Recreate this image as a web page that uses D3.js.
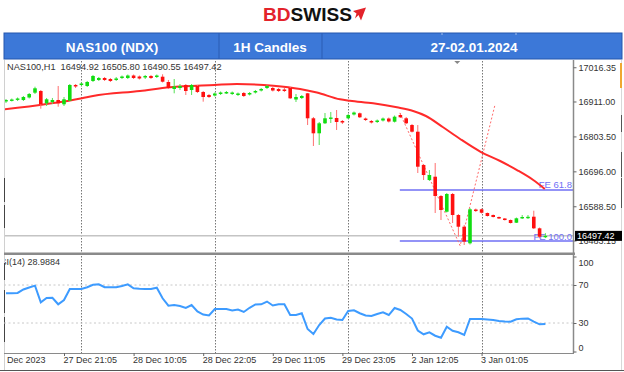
<!DOCTYPE html>
<html><head><meta charset="utf-8">
<script src="https://cdn.jsdelivr.net/npm/d3@7"></script>
<style>body{margin:0;background:#fff}svg{display:block}text{font-family:"Liberation Sans",Arial,sans-serif}</style>
</head><body><svg id="c" width="624" height="372"></svg>
<script>
// ---------- DATA ----------
const symbolTitle = "NAS100 (NDX)";
const tfTitle = "1H Candles";
const dateTitle = "27-02.01.2024";
const infoText = "NAS100,H1  16494.92 16505.80 16490.55 16497.42";
const rsiText = "RSI(14) 28.9884";

const opens = [16911.0,16914.1,16916.2,16915.6,16923.3,16938.1,16943.3,16905.4,16909.4,16915.6,16902.4,16913.5,16961.8,16961.8,16958.7,16974.1,16977.2,16983.3,16980.2,16977.2,16983.3,16983.3,16991.0,16987.9,16984.9,16989.5,16986.4,16987.3,16971.0,16949.5,16952.5,16961.8,16946.4,16958.7,16940.2,16931.0,16929.5,16934.1,16935.6,16934.1,16931.0,16937.1,16932.5,16938.7,16944.8,16952.5,16952.5,16949.5,16947.9,16952.5,16917.1,16921.8,16936.2,16859.3,16813.1,16843.9,16858.6,16860.2,16851.0,16859.3,16871.0,16874.7,16858.6,16851.0,16847.9,16852.5,16858.6,16848.8,16869.4,16859.3,16838.6,16818.0,16715.5,16669.4,16679.5,16620.1,16571.8,16626.3,16561.6,16525.6,16474.5,16578.6,16579.2,16567.8,16561.6,16555.5,16550.9,16546.2,16537.9,16552.4,16553.0,16556.4,16520.7,16494.92];
const highs = [16918.7,16920.2,16923.3,16927.9,16937.1,16956.5,16946.4,16921.8,16921.8,16958.7,16924.8,16964.8,16964.8,16969.5,16974.1,16992.6,16986.4,16986.4,16983.3,16986.4,16991.0,16994.1,16994.1,16991.0,16992.6,16992.6,16994.1,16994.7,16977.2,16980.2,16964.8,16964.8,16964.8,16961.8,16943.3,16934.1,16938.7,16941.8,16943.3,16941.8,16938.7,16940.2,16940.2,16946.4,16952.5,16961.8,16955.6,16952.5,16952.5,16955.6,16934.1,16931.0,16937.1,16863.3,16847.9,16875.6,16878.7,16884.8,16854.0,16872.5,16880.2,16877.1,16861.7,16854.0,16855.6,16861.7,16861.7,16867.9,16875.6,16863.3,16841.7,16838.6,16718.6,16700.1,16721.7,16623.2,16629.3,16629.3,16564.7,16530.9,16583.2,16581.6,16581.6,16569.3,16563.2,16557.0,16552.4,16547.8,16553.9,16561.6,16561.6,16574.9,16523.1,16505.80];
const lows = [16906.4,16911.0,16912.5,16912.5,16920.2,16934.1,16888.8,16897.1,16903.3,16895.0,16897.1,16912.5,16952.5,16958.7,16955.6,16971.0,16974.1,16974.1,16971.0,16974.1,16980.2,16980.2,16980.2,16978.7,16980.2,16980.2,16983.3,16969.5,16949.5,16936.2,16946.4,16931.0,16931.0,16937.1,16910.4,16921.8,16926.4,16931.0,16934.1,16931.0,16927.9,16924.8,16929.5,16935.6,16941.8,16949.5,16941.8,16940.2,16940.2,16918.7,16909.4,16918.7,16838.6,16774.0,16777.1,16841.7,16844.8,16823.3,16841.7,16857.1,16867.9,16860.2,16851.0,16843.3,16844.8,16849.4,16846.3,16846.3,16860.2,16841.7,16815.6,16690.9,16669.4,16666.3,16567.8,16546.2,16569.3,16537.0,16494.8,16469.3,16470.8,16570.9,16566.2,16557.0,16554.0,16549.3,16544.7,16535.5,16537.0,16549.3,16549.3,16518.5,16489.9,16490.55];
const closes = [16915.6,16917.1,16920.2,16924.8,16934.1,16951.6,16902.4,16917.8,16915.6,16905.4,16917.8,16961.8,16957.2,16966.4,16971.0,16989.5,16983.3,16977.2,16974.1,16981.8,16987.9,16991.0,16983.3,16981.8,16989.5,16983.3,16991.0,16971.9,16952.5,16957.2,16958.7,16943.3,16961.8,16940.2,16924.8,16924.8,16935.6,16938.7,16940.2,16938.7,16935.6,16927.9,16937.1,16943.3,16949.5,16958.7,16944.8,16943.3,16943.3,16920.8,16924.8,16927.9,16859.3,16813.1,16843.9,16859.3,16861.7,16847.9,16846.3,16869.4,16877.1,16862.4,16854.0,16846.3,16852.5,16858.6,16849.4,16864.2,16862.4,16843.9,16818.0,16710.3,16684.7,16684.7,16620.1,16577.0,16626.3,16561.6,16525.6,16479.7,16579.2,16573.9,16568.7,16558.6,16555.5,16550.9,16546.2,16537.0,16551.5,16555.5,16556.1,16520.7,16494.8,16497.42];

// moving average, read at bar positions
const maIdx = [-0.4,13.1,15,23.1,28.3,36,39.8,46.1,50.7,53.6,57.6,59.3,63.3,67.4,70.2,72.4,75.3,78.3,81.9,85.2,88.1,90.9,92.9];
const maVal = [16886.4,16920.8,16927.9,16943.3,16954.7,16961.8,16964.8,16959.6,16949.5,16938.7,16917.8,16913.4,16905.4,16893.1,16881.7,16866.4,16832.5,16795.6,16755.5,16727.8,16700.1,16669.4,16641.7];

// RSI(14) per bar
const rsi = [61.3,61.3,61.6,65.3,67.4,69.3,51.8,56.3,56.6,49.7,54.2,65.8,65.8,65.8,67.7,70.2,70.7,67.7,67.6,67.7,68.9,70.7,66.5,66.0,65.8,65.8,67.2,56.0,48.2,48.9,47.9,45.8,48.9,42.1,38.9,37.9,44.7,44.7,44.7,43.2,44.2,41.6,46.0,49.5,49.7,52.6,48.4,49.7,49.7,38.4,38.4,40.2,23.7,18.4,27.9,34.7,35.6,33.7,33.2,42.6,43.4,40.3,37.9,37.4,39.5,41.3,38.4,45.8,43.7,39.5,34.7,22.1,18.1,20.2,16.6,14.5,26.1,21.8,20.2,17.4,34.2,34.2,34.2,33.7,33.2,32.1,31.6,31.4,33.9,34.6,34.8,31.4,28.6,28.9884];

// Fibonacci expansion
const fibIdx = [67.9, 78.3, 84.3];
const fibPrice = [16876, 16467, 16900];
const feLabels = ["FE 61.8", "FE 100.0"];
const fePrices = [16638.6, 16481.6];
const feStartIdx = 67.9;
const bidPrice = 16497.42;

// axes
const priceTicks = [17016.35, 16911.00, 16803.50, 16696.00, 16588.50, 16483.15];
const rsiTicks = [100, 70, 30, 0];
const rsiLevels = [70, 30];
const timeIdx = [10, 22, 34, 46, 58, 70, 82];
const timeLabels = ["27 Dec 21:05","28 Dec 10:05","28 Dec 22:05","29 Dec 11:05","29 Dec 23:05","2 Jan 12:05","3 Jan 01:05"];
const firstLabel = "Dec 2023";
const daySepIdx = [13, 36, 59, 82];
const shiftMarkerIdx = 77.8;

// ---------- LAYOUT ----------
const X0 = 4, X1 = 573, PT = 60, PB = 253, RT = 256.5, RB = 351.5, AXY = 353;
const svg = d3.select("#c");
const x = d3.scaleLinear().domain([-0.345, 97.76]).range([X0, X1]);
const yP = d3.scaleLinear().domain([16444.7, 17038.7]).range([PB, PT]);
const yR = d3.scaleLinear().domain([0, 100]).range([RB, RT]);

svg.append("rect").attr("width",624).attr("height",372).attr("fill","#fff");

// ---------- HEADER ----------
const logo = svg.append("text").attr("x",263).attr("y",21)
  .attr("font-size",17.5).attr("font-weight","bold")
  .attr("textLength",89).attr("lengthAdjust","spacingAndGlyphs");
logo.append("tspan").attr("fill","#e3232b").text("BD");
logo.append("tspan").attr("fill","#111").text("SWISS");
svg.append("polygon").attr("points","353,11 366,7.5 361,20.5 358.5,15 355,18.5 356.5,13.5").attr("fill","#e3232b");

svg.append("rect").attr("x",4).attr("y",33).attr("width",618).attr("height",26)
  .attr("fill","#3c78d8").attr("stroke","#2456ad").attr("stroke-width",1);
[219, 322].forEach(d => svg.append("line").attr("x1",d).attr("x2",d).attr("y1",33).attr("y2",59).attr("stroke","#2a5cb3"));
[442, 516].forEach(d => svg.append("line").attr("x1",d).attr("x2",d).attr("y1",33).attr("y2",35).attr("stroke","#9fbbe8"));
const hdr = [[symbolTitle,112],[tfTitle,270],[dateTitle,474]];
hdr.forEach(([t,cx]) => svg.append("text").attr("x",cx).attr("y",51.5).attr("text-anchor","middle")
  .attr("font-size",13.5).attr("font-weight","bold").attr("fill","#fff").text(t));

// ---------- FRAME ----------
svg.append("line").attr("x1",4.5).attr("x2",4.5).attr("y1",60).attr("y2",370).attr("stroke","#d0d0d0");
[[178,202],[205,228],[263,280],[290,313],[317,342]].forEach(([a,b]) =>
  svg.append("line").attr("x1",4.5).attr("x2",4.5).attr("y1",a).attr("y2",b).attr("stroke","#444"));
svg.append("line").attr("x1",621.5).attr("x2",621.5).attr("y1",60).attr("y2",370).attr("stroke","#d8d8d8");
svg.append("rect").attr("x",620).attr("y",63).attr("width",2).attr("height",25).attr("fill","#f0a830");
[[115,132],[152,177],[178,208]].forEach(([a,b]) =>
  svg.append("line").attr("x1",621.5).attr("x2",621.5).attr("y1",a).attr("y2",b).attr("stroke","#555"));
svg.append("line").attr("x1",0).attr("x2",624).attr("y1",370.5).attr("y2",370.5).attr("stroke","#555");

svg.append("clipPath").attr("id","cp").append("rect").attr("x",X0+1).attr("y",PT).attr("width",X1-X0-1).attr("height",PB-PT);
svg.append("clipPath").attr("id","cr").append("rect").attr("x",X0+1).attr("y",255).attr("width",X1-X0-1).attr("height",AXY-255);

// ---------- GRID ----------
const gGrid = svg.append("g");
daySepIdx.forEach(i => gGrid.append("line").attr("x1",Math.round(x(i))+0.5).attr("x2",Math.round(x(i))+0.5)
  .attr("y1",61).attr("y2",AXY).attr("stroke","#777").attr("stroke-dasharray","1.5,1.5"));
rsiLevels.forEach(v => gGrid.append("line").attr("x1",X0).attr("x2",X1).attr("y1",yR(v)).attr("y2",yR(v))
  .attr("stroke","#c8c8c8").attr("stroke-dasharray","2,2.5"));

// ---------- PRICE PANE ----------
const gP = svg.append("g").attr("clip-path","url(#cp)");
gP.append("line").attr("x1",X0).attr("x2",X1).attr("y1",yP(bidPrice)).attr("y2",yP(bidPrice))
  .attr("stroke","#c4c4c4").attr("stroke-width",1.5);
fePrices.forEach(p => gP.append("line").attr("x1",x(feStartIdx)).attr("x2",X1).attr("y1",yP(p)).attr("y2",yP(p))
  .attr("stroke","#6f6ff5").attr("stroke-width",1.3));
feLabels.forEach((t,k) => gP.append("text").attr("x",X1-1).attr("y",yP(fePrices[k])-1.5).attr("text-anchor","end")
  .attr("font-size",9.5).attr("fill","#6f6ff5").text(t));

gP.append("path").datum(fibIdx.map((d,k)=>[d,fibPrice[k]]))
  .attr("d", d3.line().x(d=>x(d[0])).y(d=>yP(d[1])))
  .attr("fill","none").attr("stroke","#ff6a6a").attr("stroke-width",1).attr("stroke-dasharray","2,2");

gP.append("path").datum(maIdx.map((d,k)=>[d,maVal[k]]))
  .attr("d", d3.line().curve(d3.curveMonotoneX).x(d=>x(d[0])).y(d=>yP(d[1])))
  .attr("fill","none").attr("stroke","#ff2a2a").attr("stroke-width",2);

const bars = opens.map((o,i)=>({i, o, h:highs[i], l:lows[i], c:closes[i], up: closes[i] >= o}));
const gC = gP.append("g");
gC.selectAll("line.w").data(bars).join("line").attr("class","w")
  .attr("x1",d=>x(d.i)).attr("x2",d=>x(d.i)).attr("y1",d=>yP(d.h)).attr("y2",d=>yP(d.l))
  .attr("stroke",d=>d.up?"#55e055":"#ff6f6f").attr("stroke-width",1);
gC.selectAll("rect.b").data(bars).join("rect").attr("class","b")
  .attr("x",d=>x(d.i)-1.8).attr("width",3.6)
  .attr("y",d=>yP(Math.max(d.o,d.c)))
  .attr("height",d=>Math.max(1.4, Math.abs(yP(d.o)-yP(d.c))))
  .attr("fill",d=>d.up?"#11dd11":"#ff1010");

svg.append("polygon")
  .attr("points",`${x(shiftMarkerIdx)-3},61 ${x(shiftMarkerIdx)+3},61 ${x(shiftMarkerIdx)},64`).attr("fill","#888");

svg.append("text").attr("x",7).attr("y",69.5).attr("font-size",9.2).attr("fill","#333").attr("xml:space","preserve").text(infoText);

// ---------- RSI PANE ----------
const gR = svg.append("g").attr("clip-path","url(#cr)");
gR.append("path").datum(rsi)
  .attr("d", d3.line().x((d,i)=>x(i)).y(d=>yR(d)))
  .attr("fill","none").attr("stroke","#3d9bff").attr("stroke-width",2);
gR.append("text").attr("x",-6).attr("y",265).attr("font-size",9).attr("fill","#333").text(rsiText);

// ---------- AXES / SEPARATORS ----------
svg.append("rect").attr("x",X0).attr("y",252.5).attr("width",X1-X0+2).attr("height",2.5).attr("fill","#8a8a8a");
svg.append("line").attr("x1",X1+0.5).attr("x2",X1+0.5).attr("y1",60).attr("y2",AXY).attr("stroke","#8a8a8a").attr("stroke-width",1.5);
svg.append("line").attr("x1",X0).attr("x2",X1+1).attr("y1",AXY+0.5).attr("y2",AXY+0.5).attr("stroke","#8a8a8a").attr("stroke-width",1.2);

const axP = svg.append("g").attr("transform",`translate(${X1+0.5},0)`)
  .call(d3.axisRight(yP).tickValues(priceTicks).tickSize(3).tickPadding(2).tickFormat(d3.format(".2f")));
const axR = svg.append("g").attr("transform",`translate(${X1+0.5},0)`)
  .call(d3.axisRight(yR).tickValues(rsiTicks).tickSize(3).tickPadding(2).tickFormat(d3.format("d")));
axR.selectAll(".tick text").attr("dy",d => d===100 ? "1.05em" : d===0 ? "-0.1em" : "0.32em");
const axT = svg.append("g").attr("transform",`translate(0,${AXY})`)
  .call(d3.axisBottom(x).tickValues(timeIdx).tickSize(3).tickFormat((d,k)=>timeLabels[k]));
axT.selectAll(".tick text").attr("text-anchor","start").attr("x",-1).attr("y",4);
[axP,axR,axT].forEach(g => {
  g.select(".domain").remove();
  g.selectAll(".tick line").attr("stroke","#666");
  g.selectAll(".tick text").attr("font-size",9).attr("fill","#333").attr("font-family","Liberation Sans, Arial, sans-serif");
});
svg.append("text").attr("x",7).attr("y",363.4).attr("font-size",9).attr("fill","#333").text(firstLabel);

// current price box
svg.append("rect").attr("x",X1+2).attr("y",yP(bidPrice)-5).attr("width",47).attr("height",10).attr("fill","#000");
svg.append("text").attr("x",X1+4).attr("y",yP(bidPrice)+3.5).attr("font-size",9).attr("fill","#fff").text(d3.format(".2f")(bidPrice));
</script></body></html>
